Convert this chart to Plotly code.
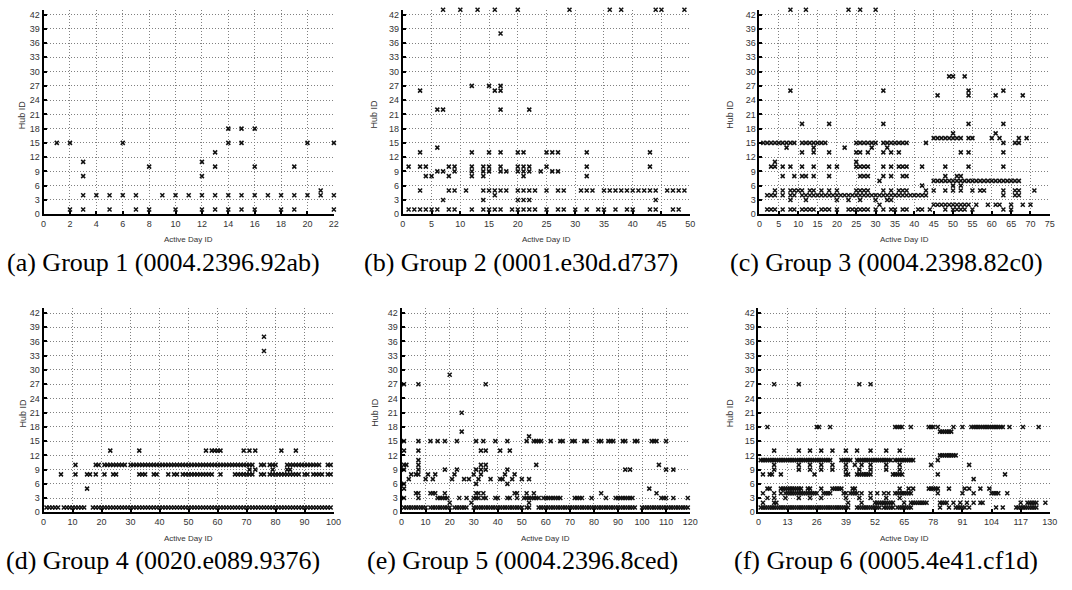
import plotly.graph_objects as go

# ---- data: hub ID -> active days (runs "a-b" are contiguous days)
G1 = {15: "1,2,6,14,15,20,22", 18: "14,15,16", 13: "13", 11: "3,12", 10: "8,13,16,19",
      8: "3,12", 5: "21", 4: "3-7,9-22", 1: "2,3,5,7,8,10,12-16,18,19,22"}
G2 = {43: "7,10,13,16,20,29,36,38,44,45,49", 38: "17", 27: "12,15,17", 26: "3,16,17",
      22: "6,7,17,22", 14: "6", 13: "3,12,15,17,20,21,25,26,27,32,43",
      10: "1,3,4,8,9,12,14,15,17,20,21,22,25,32,43",
      9: "6,7,9,12,14,15,17,18,20,21,22,24,26,27", 8: "4,5,8,12,14,21,32",
      5: "3,8,9,11,14-18,20-23,25,27,28,31-33,35-44,46-49", 4: "16", 3: "7,14,20,21,22,44",
      1: "1-6,8,9,12,14-17,19-23,25,27,28,30,32,34,35,37,39,40,43,44,47,48"}
G3 = {43: "8,12,23,26,30", 29: "49,50,53", 26: "8,32,54,63", 25: "46,54,61,68",
      19: "11,18,32,54,63", 17: "50,61", 16: "45-52,54,55,60,62,67,69",
      15: "1-9,11-17,25-30,32-38,43,63,66,67", 14: "7,14,22,29,33",
      13: "11,14,18,25,26,28,32,34,36,52,54,63", 11: "4,25",
      10: "3,4,6,8,11,14,18,20,25-28,32,34,36-38,42,48,54,63",
      8: "6,9,11,12,14,18,26-28,32,34,37,38,48,51,52", 7: "31,45-67", 6: "42,50,52",
      5: "4,6,8-11,13,14,16,18,20,25-28,32,34,36-38,43,45,48,50,52,55,57,58,63,66,67,71",
      4: "2-4,6,8,9,11-43,63,66,67", 3: "8,12,20,23,26,30,33,34",
      2: "31,45-54,56,59,61,62,65,68,70",
      1: "2-4,6,8,9,11-14,16-18,20,23-28,30,32,34,35,37,38,41,42,44,48,50-53,55,63,65"}
G4 = {37: "76", 34: "76", 13: "23,33,56,58-61,69,71,73,82,87",
      10: "11,18,19,21-28,30-72,75,76,78-80,84-95,98,99", 9: "71,73,79,84,85",
      8: "6,11,15,16,18,21,24,25,33-35,38,39,43,45,46,48-58,61,66-72,75,76,78-88,90,91,93-96,98,99",
      5: "15", 1: "1-5,7-14,17-99"}
G5 = {29: "20", 27: "1,7,35", 21: "25", 17: "25", 16: "53",
      15: "1,7,12,15,18,23,31,34,39,44,52,55-58,62,66,67,71,72,76,77,82,83,86-88,92,93,97,98,104-106,110",
      13: "1,7,33,35,41,45", 11: "7", 10: "1,2,7,33,35,56,107",
      9: "1,7,18,23,31,33,35,44,93,95,110,113", 8: "4,6,7,11,14,22,30,33,43,47",
      7: "3,10,13,21,26,28,32,37,41,42,46,50,53", 6: "1,31,44", 5: "1,103",
      4: "6,7,12,13,14,18,31,32,34,47,48,52,55,83,106",
      3: "1,7,15-19,24,27,30-32,34,35,39,40,44,45,48,51-57,59-66,72-75,79,85,89-96,108-110,113,119",
      2: "20,29,53", 1: "1-10,12-20,22-27,30-50,52,53,57-97,100-119"}
G6 = {27: "7,18,45,50",
      18: "4,26,27,32,61-64,68,76-78,80,87,91,95-109,112,118,125", 17: "81-86",
      13: "7,18,23,28,33,39,44,50,57,63", 12: "81-88", 11: "1-32,37-41,44-59,61-69,80",
      10: "7,18,23,28,33,39,43,46,50,57,63,77,94", 9: "7,18,23,28,33,39,45,50,57,63",
      8: "2,5,6,10,25,39,40,44-50,60-64,80,110", 7: "96",
      5: "4,5,10-19,22,23,28,33-37,42,43,63,67,69,76-80,85,92,94,99,103",
      4: "2,7,10,12-26,29-32,38,39,41-44,46,50,53,56,58,61-68,80,91,96,104-107,111",
      3: "4,7,12,18,23,28,39,45,50,57,63",
      2: "2,7,8,40,46,52-60,65,68-75,81-84,87,90,93,96,99,100,117,120-124,128",
      1: "1-40,44-54,56-60,62-68,81,85,88-92,94,106,109,115-124"}

CAPTIONS = ["(a) Group 1 (0004.2396.92ab)", "(b) Group 2 (0001.e30d.d737)",
            "(c) Group 3 (0004.2398.82c0)", "(d) Group 4 (0020.e089.9376)",
            "(e) Group 5 (0004.2396.8ced)", "(f) Group 6 (0005.4e41.cf1d)"]
X_MAX = [22, 50, 75, 100, 120, 130]
X_STEP = [2, 5, 5, 10, 10, 13]
Y_TICKS = list(range(0, 43, 3))
Y_TOP = 43  # axis extends one unit above the last tick (points at hub 43 sit on the edge)
GROUPS = [G1, G2, G3, G4, G5, G6]

W, H = 1072, 590
# plot-area pixel boxes (left, right, y-pixel of 42, y-pixel of 0)
BOXES = [(41, 334.3, 14.7, 216), (404, 694.3, 14.7, 216), (764.3, 1057.7, 14.7, 216),
         (41, 334, 315.7, 516.7), (402.7, 694.3, 315.7, 516.7), (763.3, 1057.7, 315.7, 516.7)]
CAP_X = [162, 523, 893, 162, 525, 892]
YLAB_X = [20, 375, 735, 20, 376, 734]


def parse(spec):
    out = []
    for item in spec.split(","):
        if "-" in item:
            a, b = item.split("-")
            out.extend(range(int(a), int(b) + 1))
        else:
            out.append(int(item))
    return out


fig = go.Figure()
annotations = []
for i, g in enumerate(GROUPS):
    xs, ys = [], []
    for hub, spec in g.items():
        days = parse(spec)
        xs.extend(days)
        ys.extend([hub] * len(days))
    n = "" if i == 0 else str(i + 1)
    fig.add_trace(go.Scatter(
        x=xs, y=ys, mode="markers", xaxis="x" + n, yaxis="y" + n, cliponaxis=False,
        marker=dict(symbol="x-thin", size=4, color="black",
                    line=dict(color="#111", width=1.5)),
        showlegend=False, hoverinfo="x+y"))
    l, r, t42, b = BOXES[i]
    top = b - (b - t42) * Y_TOP / 42
    tickfont = dict(family="Liberation Sans, Arial", size=9, color="#333")
    grid = dict(showgrid=True, gridcolor="#808080", griddash="1px,2px", gridwidth=1,
                zeroline=False, showline=True, linecolor="black", linewidth=2,
                ticks="inside", ticklen=3, tickcolor="black", tickwidth=1.5,
                tickfont=tickfont)
    fig.layout["xaxis" + n] = dict(
        domain=[l / W, r / W], anchor="y" + n, range=[0, X_MAX[i]],
        tickmode="linear", tick0=0, dtick=X_STEP[i], **grid)
    fig.layout["yaxis" + n] = dict(
        domain=[1 - b / H, 1 - top / H], anchor="x" + n, range=[0, Y_TOP],
        tickmode="array", tickvals=Y_TICKS, **grid)
    annotations.append(dict(text="Active Day ID", x=(l + r) / 2 / W, y=1 - (b + 26) / H,
                            xref="paper", yref="paper", showarrow=False,
                            xanchor="center", yanchor="middle",
                            font=dict(family="Liberation Sans, Arial", size=8, color="#333")))
    annotations.append(dict(text="Hub ID", x=YLAB_X[i] / W, y=1 - (t42 + b) / 2 / H,
                            xref="paper", yref="paper", showarrow=False, textangle=-90,
                            xanchor="center", yanchor="middle",
                            font=dict(family="Liberation Sans, Arial", size=9, color="#333")))
    annotations.append(dict(text=CAPTIONS[i], x=CAP_X[i] / W, y=1 - (b + 49) / H,
                            xref="paper", yref="paper", showarrow=False,
                            xanchor="center", yanchor="middle",
                            font=dict(family="Liberation Serif, Times New Roman", size=26,
                                      color="black")))

fig.update_layout(width=W, height=H, margin=dict(l=0, r=0, t=0, b=0),
                  paper_bgcolor="white", plot_bgcolor="white",
                  annotations=annotations)
fig.write_html("out.html")
